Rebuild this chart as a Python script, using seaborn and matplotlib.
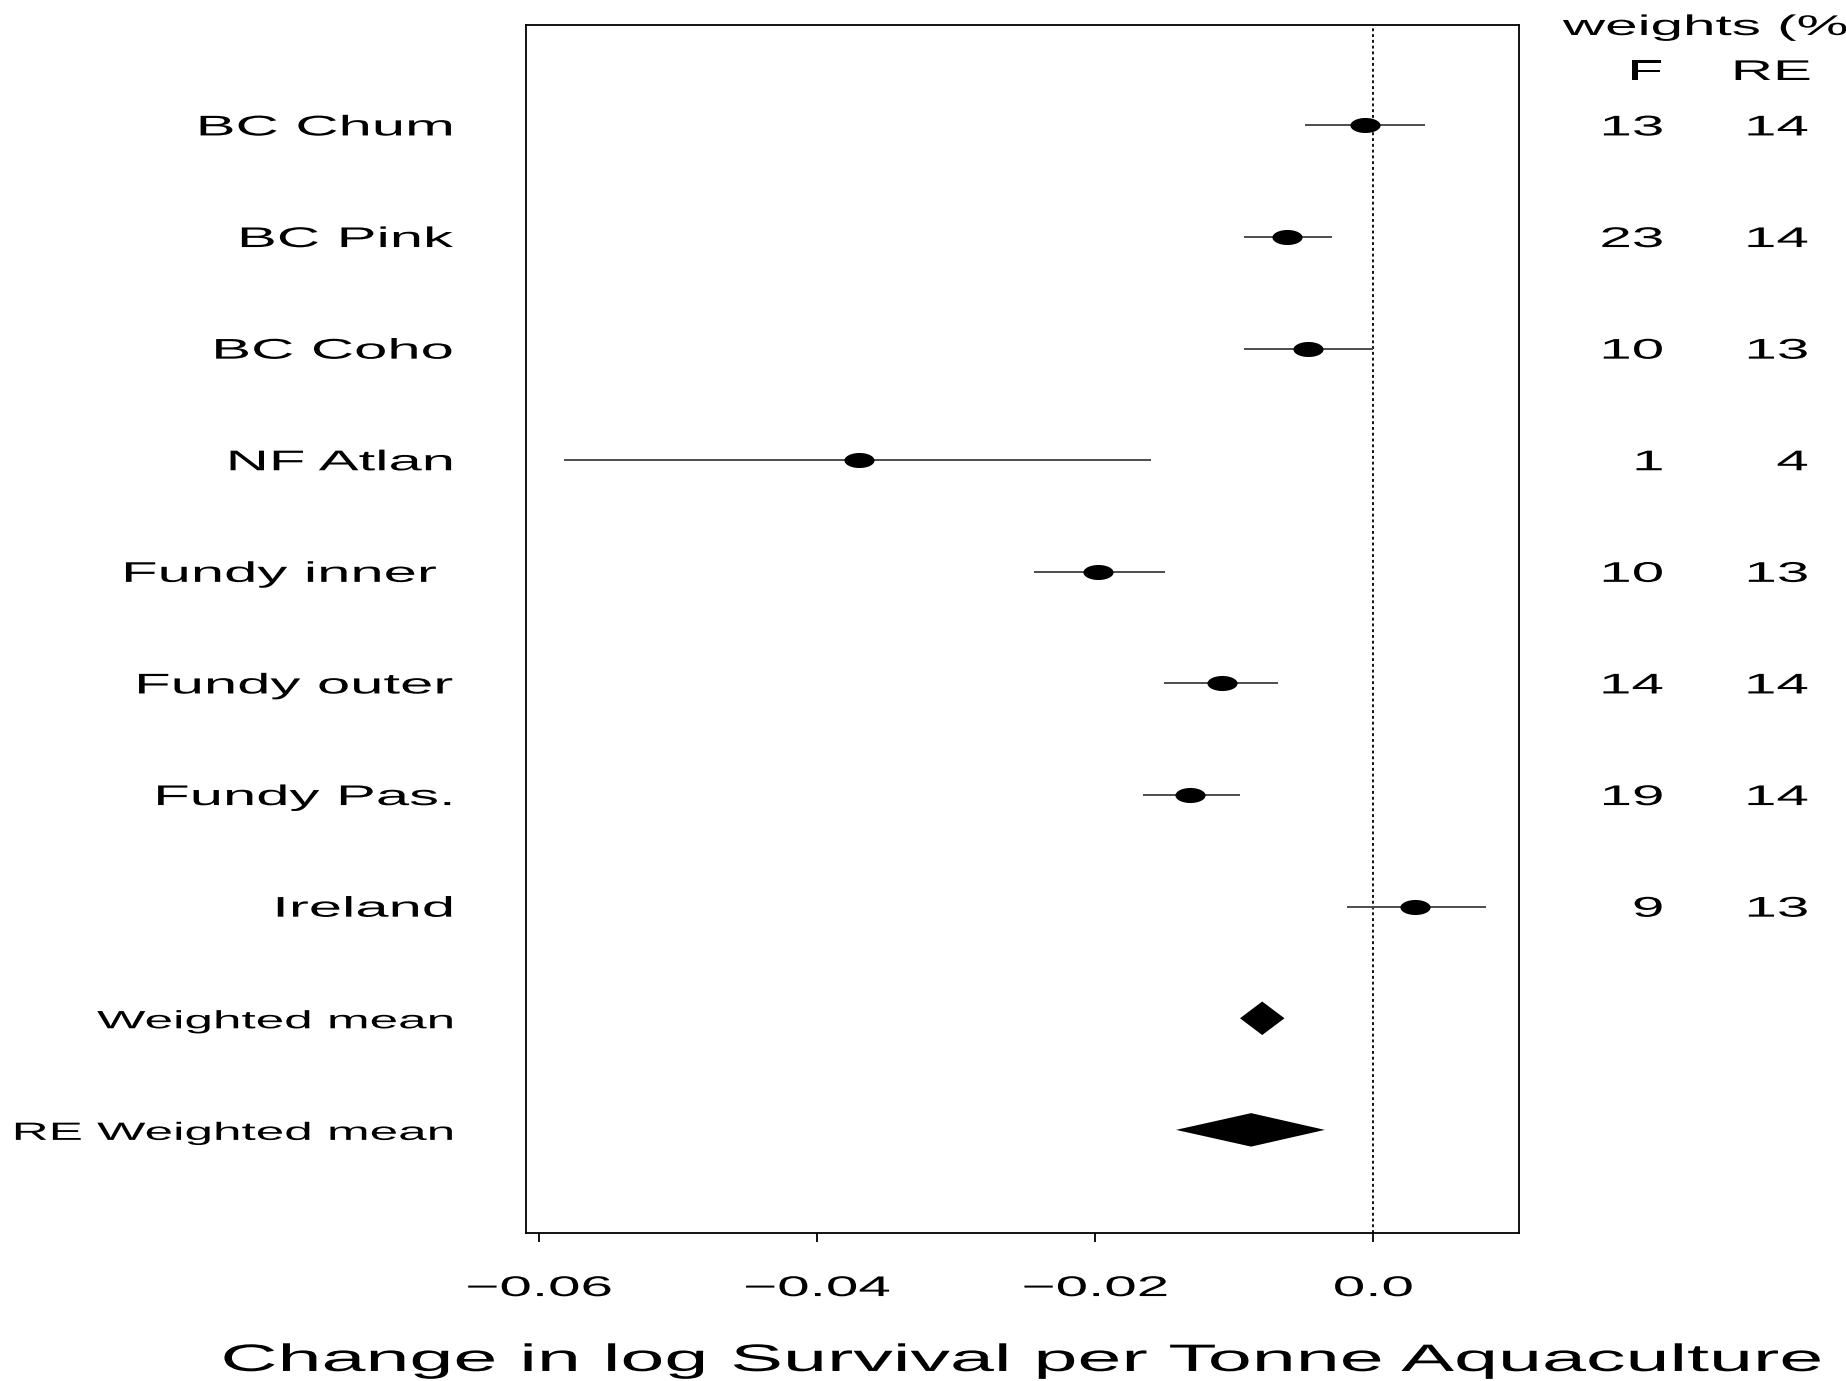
import numpy as np
import pandas as pd
import matplotlib
matplotlib.use("Agg")
import matplotlib.pyplot as plt
import seaborn as sns
from matplotlib import patheffects, transforms
from matplotlib.patches import Polygon
from matplotlib.path import Path

# ---------------- data ----------------
studies = ["BC Chum", "BC Pink", "BC Coho", "NF Atlan", "Fundy inner ",
           "Fundy outer", "Fundy Pas.", "Ireland"]
estimate = [-0.0006, -0.0062, -0.0047, -0.0370, -0.0198, -0.0109, -0.0132, 0.0030]
ci_low = [-0.0049, -0.0093, -0.0093, -0.0582, -0.0244, -0.0151, -0.0166, -0.0019]
ci_high = [0.0037, -0.0030, 0.0000, -0.0160, -0.0150, -0.0069, -0.0096, 0.0081]
weight_fixed = [13, 23, 10, 1, 10, 14, 19, 9]
weight_re = [14, 14, 13, 4, 13, 14, 14, 13]

summary_labels = ["Weighted mean", "RE Weighted mean"]
summary_est = [-0.0080, -0.0088]
summary_low = [-0.0096, -0.0142]
summary_high = [-0.0064, -0.0035]

x_ticks = [-0.06, -0.04, -0.02, 0.0]
x_tick_labels = ["\u22120.06", "\u22120.04", "\u22120.02", "0.0"]
x_title = "Change in log Survival per Tonne Aquaculture"
header = "weights (%)"
col_heads = ["F", "RE"]

# ---------------- style ----------------
sns.set_style("white")
plt.rcParams["font.family"] = ["Liberation Sans", "DejaVu Sans"]

SX = 2.05  # horizontal stretch of lettering in the reference


class HStretch(patheffects.AbstractPathEffect):
    """Draw text glyphs stretched horizontally about an anchor."""

    def __init__(self, sx=SX, anchor="left", trailing=0):
        super().__init__()
        self.sx = sx
        self.anchor = anchor
        self.trailing = trailing

    def draw_path(self, renderer, gc, tpath, affine, rgbFace=None):
        ext = tpath.get_extents()
        if self.anchor == "right":
            x0 = ext.x1 + self.trailing * 27.8
        elif self.anchor == "center":
            x0 = 0.5 * (ext.x0 + ext.x1)
        else:
            x0 = 0.0
        t = (transforms.Affine2D().translate(-x0, 0).scale(self.sx, 1)
             .translate(x0, 0) + affine)
        renderer.draw_path(gc, tpath, t, rgbFace)


fig = plt.figure(figsize=(18.46, 13.81), dpi=100)
ax = fig.add_axes([0.28494, 0.10717, 0.53792, 0.87473])

n = len(studies)
n_rows = n + len(summary_labels)
study_pos = np.arange(n_rows, n_rows - n, -1)
summary_pos = np.arange(len(summary_labels), 0, -1)

df = pd.DataFrame({"study": studies, "est": estimate, "lo": ci_low,
                   "hi": ci_high, "pos": study_pos})

# reference line at zero
ax.axvline(0.0, color="black", lw=1.3, linestyle=(0, (1.6, 1.6)), zorder=1)

# confidence intervals
ax.hlines(df["pos"], df["lo"], df["hi"], color="#4d4d4d", lw=1.4, zorder=2)

# point estimates (stretched dots)
t = np.linspace(0, 2 * np.pi, 80)
ell = Path(np.column_stack([np.cos(t), 0.5 * np.sin(t)]))
sns.scatterplot(data=df, x="est", y="pos", marker=ell, s=470, color="black",
                linewidth=0, ax=ax, zorder=3, legend=False)

# summary diamonds
half_h = 0.15
for e, lo, hi, y in zip(summary_est, summary_low, summary_high, summary_pos):
    ax.add_patch(Polygon([[lo, y], [e, y + half_h], [hi, y], [e, y - half_h]],
                         closed=True, facecolor="black", edgecolor="none",
                         zorder=3))

ax.set_xlim(-0.06096, 0.01047)
ax.set_ylim(0.076, n_rows + 0.90)
ax.set_xticks(x_ticks)
ax.set_xticklabels(x_tick_labels)
ax.set_yticks([])
ax.set_ylabel("")
ax.tick_params(axis="x", direction="out", length=6.5, width=1.3, pad=24.5,
               labelsize=20.5, bottom=True, color="black", labelcolor="black")
for sp in ax.spines.values():
    sp.set_visible(True)
    sp.set_color("black")
    sp.set_linewidth(1.3)
for lbl in ax.get_xticklabels():
    lbl.set_path_effects([HStretch(2.05, "center")])

ax.set_xlabel(x_title, fontsize=27.5, color="black")
ax.xaxis.set_label_coords(0.5, -0.1142)
ax.xaxis.label.set_va("baseline")
ax.xaxis.label.set_path_effects([HStretch(2.07, "center")])

# row labels and weights
blend = transforms.blended_transform_factory(ax.transAxes, ax.transData)
tr_row = transforms.offset_copy(blend, fig=fig, x=0, y=-10, units="dots")

for lab, y, wf, wr in zip(studies, study_pos, weight_fixed, weight_re):
    trailing = len(lab) - len(lab.rstrip())
    ax.text(-0.0735, y, lab, transform=tr_row, ha="right", va="baseline",
            fontsize=20.5, color="black",
            path_effects=[HStretch(2.1, "right", trailing)])
    ax.text(1.1450, y, str(wf), transform=tr_row, ha="right", va="baseline",
            fontsize=20.5, color="black", path_effects=[HStretch(2.05, "right")])
    ax.text(1.2910, y, str(wr), transform=tr_row, ha="right", va="baseline",
            fontsize=20.5, color="black", path_effects=[HStretch(2.05, "right")])

for lab, y in zip(summary_labels, summary_pos):
    ax.text(-0.0735, y, lab, transform=tr_row, ha="right", va="baseline",
            fontsize=18, color="black", path_effects=[HStretch(2.05, "right")])

# header
hdr = transforms.blended_transform_factory(ax.transAxes, fig.transFigure)
ax.text(1.0443, 1 - 35 / 1381, header, transform=hdr, ha="left",
        va="baseline", fontsize=20.5, color="black",
        path_effects=[HStretch(2.05, "left")])
for h, xc in zip(col_heads, [1.1279, 1.2548]):
    ax.text(xc, 1 - 80 / 1381, h, transform=hdr, ha="center", va="baseline",
            fontsize=20.5, color="black",
            path_effects=[HStretch(2.05, "center")])

fig.savefig("out.png", dpi=100)
